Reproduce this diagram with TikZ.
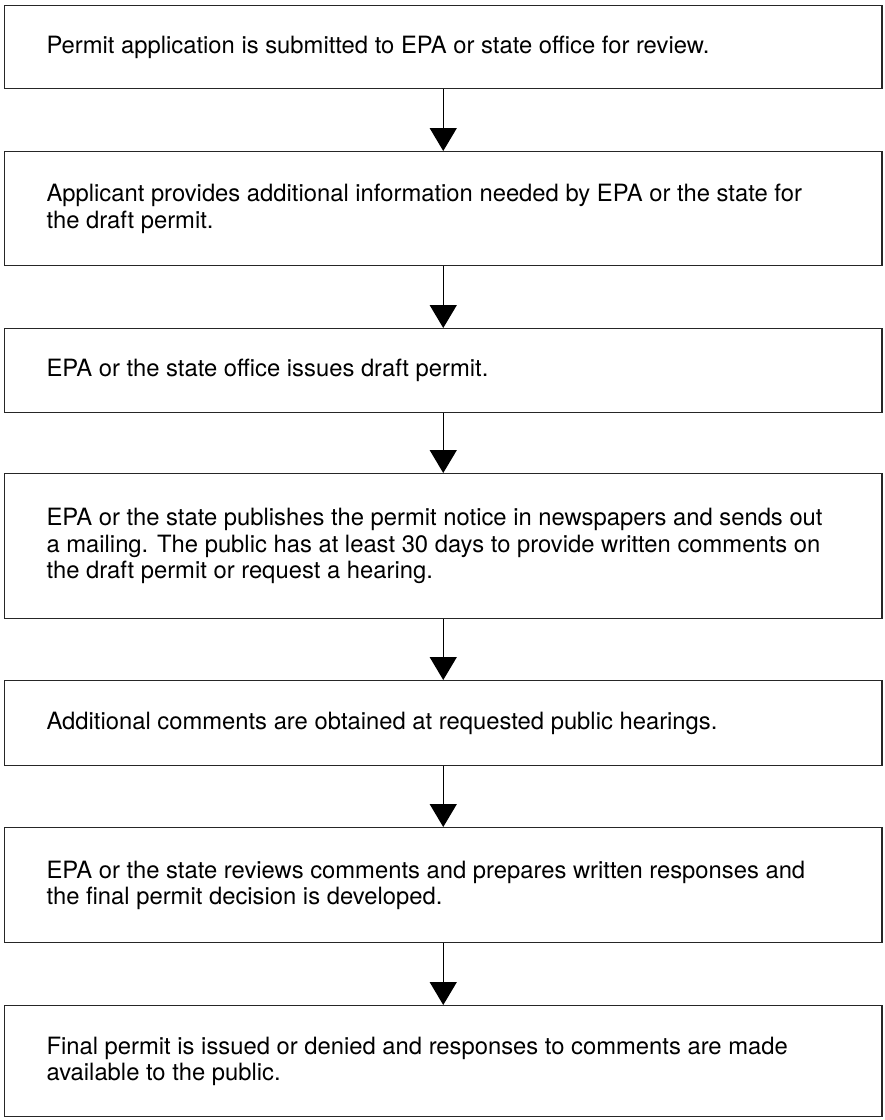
\documentclass[tikz,border=0pt]{standalone}
\usepackage{fontspec}
\setmainfont{TeX Gyre Heros}
\usetikzlibrary{arrows.meta}
\begin{document}
\begin{tikzpicture}[x=1pt,y=-1pt,
  stepbox/.style={draw=black!85, line width=1.4pt, minimum width=877.5pt, anchor=north, inner sep=0pt},
  steptext/.style={anchor=west, align=left, inner sep=0pt, font=\fontsize{23.8}{26.5}\selectfont},
  flow/.style={draw=black, line width=1.4pt, -{Triangle[width=27pt,length=23pt]}}]
\useasboundingbox (0,0) rectangle (885,1120);
\node[stepbox, minimum height=83pt]  (b1) at (443.25,5) {};
\node[stepbox, minimum height=114pt] (b2) at (443.25,151) {};
\node[stepbox, minimum height=84pt]  (b3) at (443.25,328) {};
\node[stepbox, minimum height=145pt] (b4) at (443.25,473) {};
\node[stepbox, minimum height=85pt]  (b5) at (443.25,680) {};
\node[stepbox, minimum height=115pt] (b6) at (443.25,827) {};
\node[stepbox, minimum height=111pt] (b7) at (443.25,1005) {};
\node[steptext] (t1) at ([xshift=42.5pt]b1.west) {Permit application is submitted to EPA or state office for review.};
\node[steptext] (t2) at ([xshift=42.5pt]b2.west) {Applicant provides additional information needed by EPA or the state for\\the draft permit.};
\node[steptext] (t3) at ([xshift=42.5pt]b3.west) {EPA or the state office issues draft permit.};
\node[steptext] (t4) at ([xshift=42.5pt]b4.west) {EPA or the state publishes the permit notice in newspapers and sends out\\a mailing. The public has at least 30 days to provide written comments on\\the draft permit or request a hearing.};
\node[steptext] (t5) at ([xshift=42.5pt]b5.west) {Additional comments are obtained at requested public hearings.};
\node[steptext] (t6) at ([xshift=42.5pt]b6.west) {EPA or the state reviews comments and prepares written responses and\\the final permit decision is developed.};
\node[steptext] (t7) at ([xshift=42.5pt]b7.west) {Final permit is issued or denied and responses to comments are made\\available to the public.};
\draw[flow] (b1.south) -- (b2.north);
\draw[flow] (b2.south) -- (b3.north);
\draw[flow] (b3.south) -- (b4.north);
\draw[flow] (b4.south) -- (b5.north);
\draw[flow] (b5.south) -- (b6.north);
\draw[flow] (b6.south) -- (b7.north);
\end{tikzpicture}
\end{document}
